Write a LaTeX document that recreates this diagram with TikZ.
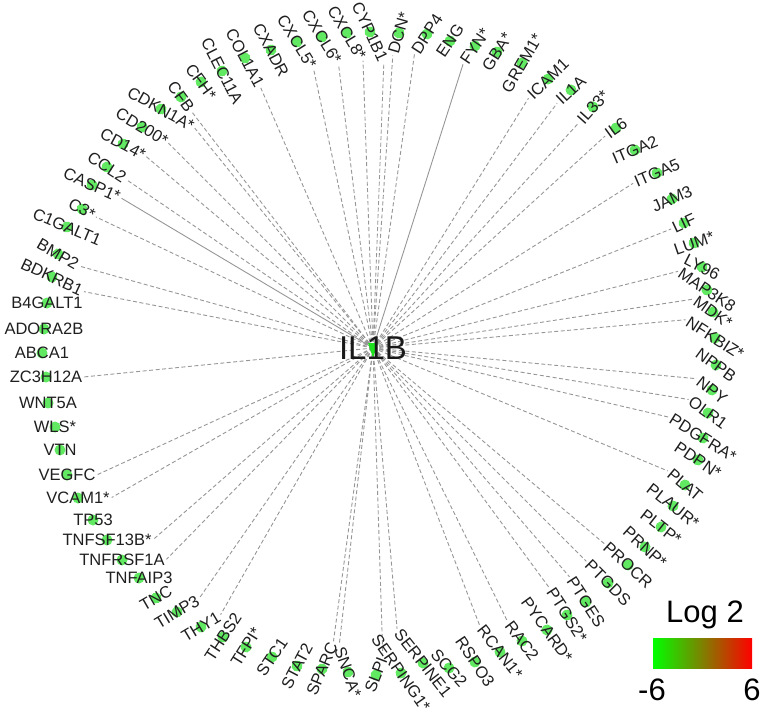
\documentclass[tikz,border=0pt]{standalone}
\usepackage{fontspec}
\setmainfont{Liberation Sans}
\usetikzlibrary{backgrounds}
\definecolor{glyphgreen}{RGB}{30,225,30}
\definecolor{linkgray}{RGB}{150,150,150}
\definecolor{lowgreen}{RGB}{0,255,0}
\definecolor{highred}{RGB}{255,0,0}
\tikzset{
  gene/.style={font=\fontsize{16.5}{18}\selectfont, text=black!88, inner sep=1pt,
    path picture={\fill[glyphgreen,opacity=.7] (path picture bounding box.center) circle (5.5);}},
  link/.style={linkgray, line width=0.9pt, dash pattern=on 4pt off 2.5pt, shorten >=1pt},
  plainlink/.style={linkgray, line width=0.9pt, shorten >=1pt},
}
\begin{document}
\begin{tikzpicture}[x=1pt,y=-1pt]
\useasboundingbox (0,0) rectangle (765,717);
% hub
\fill[glyphgreen] (368,343) -- (378,343) -- (373,358) -- cycle;
\node[font=\fontsize{33}{36}\selectfont, text=black!90] (IL1B) at (373,348) {IL1B};
% left side
\node[gene] (ABCA1) at (42,353) {ABCA1};
\node[gene] (ADORA2B) at (44,329) {ADORA2B};
\node[gene] (B4GALT1) at (47,303) {B4GALT1};
\node[gene,rotate=-25] (BDKRB1) at (52,277) {BDKRB1};
\node[gene,rotate=-30] (BMP2) at (58,254) {BMP2};
\node[gene,rotate=-23] (C1GALT1) at (67,227) {C1GALT1};
\node[gene,rotate=-30] (C3) at (82,209) {C3*};
\node[gene,rotate=-24] (CASP1) at (92,185) {CASP1*};
\node[gene,rotate=-33] (CCL2) at (107,167) {CCL2};
\node[gene,rotate=-28] (CD14) at (123,144) {CD14*};
\node[gene,rotate=-31] (CD200) at (142,127) {CD200*};
\node[gene,rotate=-29] (CDKN1A) at (161,109) {CDKN1A*};
\node[gene,rotate=-54] (CFB) at (181,97) {CFB};
\node[gene,rotate=-54] (CFH) at (201,82) {CFH*};
\node[gene,rotate=-63] (CLEC11A) at (222,71) {CLEC11A};
\node[gene,rotate=-62] (COL1A1) at (245,58) {COL1A1};
\node[gene,rotate=-62] (CXADR) at (271,50) {CXADR};
\node[gene,rotate=-58] (CXCL5) at (297,42) {CXCL5*};
\node[gene,rotate=-58] (CXCL6) at (322,37) {CXCL6*};
\node[gene,rotate=-59] (CXCL8) at (347,33) {CXCL8*};
\node[gene,rotate=-65] (CYP1B1) at (370,32) {CYP1B1};
% top right
\node[gene,rotate=74] (DCN) at (399,33) {DCN*};
\node[gene,rotate=57] (DPP4) at (427,34) {DPP4};
\node[gene,rotate=56] (ENG) at (450,41) {ENG};
\node[gene,rotate=56] (FYN) at (475,46) {FYN*};
\node[gene,rotate=58] (GBA) at (497,52) {GBA*};
\node[gene,rotate=60] (GREM1) at (522,63) {GREM1*};
\node[gene,rotate=44] (ICAM1) at (548,79) {ICAM1};
\node[gene,rotate=43] (IL1A) at (571,90) {IL1A};
\node[gene,rotate=48] (IL33) at (593,107) {IL33*};
\node[gene,rotate=36] (IL6) at (616,128) {IL6};
\node[gene,rotate=23] (ITGA2) at (635,150) {ITGA2};
\node[gene,rotate=23] (ITGA5) at (657,173) {ITGA5};
\node[gene,rotate=24] (JAM3) at (672,199) {JAM3};
\node[gene,rotate=25] (LIF) at (684,223) {LIF};
\node[gene,rotate=19] (LUM) at (694,243) {LUM*};
% right side
\node[gene,rotate=-27] (LY96) at (702,267) {LY96};
\node[gene,rotate=-34] (MAP3K8) at (707,290) {MAP3K8};
\node[gene,rotate=-35] (MDK) at (713,312) {MDK*};
\node[gene,rotate=-33] (NFKBIZ) at (715,338) {NFKBIZ*};
\node[gene,rotate=-36] (NPPB) at (716,365) {NPPB};
\node[gene,rotate=-38] (NPY) at (712,390) {NPY};
\node[gene,rotate=-36] (OLR1) at (708,413) {OLR1};
\node[gene,rotate=-32] (PDGFRA) at (703,438) {PDGFRA*};
\node[gene,rotate=-34] (PDPN) at (698,460) {PDPN*};
\node[gene,rotate=-40] (PLAT) at (685,485) {PLAT};
\node[gene,rotate=-38] (PLAUR) at (673,506) {PLAUR*};
\node[gene,rotate=-38] (PLTP) at (661,527) {PLTP*};
\node[gene,rotate=-42] (PRNP) at (645,547) {PRNP*};
\node[gene,rotate=-42] (PROCR) at (628,565) {PROCR};
\node[gene,rotate=-45] (PTGDS) at (608,583) {PTGDS};
\node[gene,rotate=-57] (PTGES) at (586,602) {PTGES};
\node[gene,rotate=-57] (PTGS2) at (567,615) {PTGS2*};
\node[gene,rotate=-54] (PYCARD) at (547,630) {PYCARD*};
\node[gene,rotate=-53] (RAC2) at (522,641) {RAC2};
\node[gene,rotate=-52] (RCAN1) at (500,652) {RCAN1*};
\node[gene,rotate=-56] (RSPO3) at (475,662) {RSPO3};
\node[gene,rotate=-48] (SCG2) at (449,668) {SCG2};
\node[gene,rotate=-52] (SERPINE1) at (423,663) {SERPINE1};
\node[gene,rotate=-55] (SERPING1) at (401,673) {SERPING1*};
% bottom left
\node[gene,rotate=69] (SLPI) at (376,675) {SLPI};
\node[gene,rotate=-71] (SNCA) at (348,672) {SNCA*};
\node[gene,rotate=67] (SPARC) at (322,669) {SPARC};
\node[gene,rotate=62] (STAT2) at (297,666) {STAT2};
\node[gene,rotate=56] (STC1) at (272,657) {STC1};
\node[gene,rotate=58] (TFPI) at (246,647) {TFPI*};
\node[gene,rotate=57] (THBS2) at (223,637) {THBS2};
\node[gene,rotate=31] (THY1) at (201,627) {THY1};
\node[gene,rotate=31] (TIMP3) at (177,612) {TIMP3};
\node[gene,rotate=30] (TNC) at (156,598) {TNC};
\node[gene] (TNFAIP3) at (139,578) {TNFAIP3};
\node[gene] (TNFRSF1A) at (122,560) {TNFRSF1A};
\node[gene] (TNFSF13B) at (107,540) {TNFSF13B*};
\node[gene] (TP53) at (93,520) {TP53};
\node[gene] (VCAM1) at (78,498) {VCAM1*};
\node[gene] (VEGFC) at (67,475) {VEGFC};
\node[gene] (VTN) at (60,450) {VTN};
\node[gene] (WLS) at (55,427) {WLS*};
\node[gene] (WNT5A) at (48,403) {WNT5A};
\node[gene] (ZC3H12A) at (46,377) {ZC3H12A};
% links to the hub
\begin{scope}[on background layer]
\draw[link] (IL1B.center) -- (BDKRB1.east);
\draw[link] (IL1B.center) -- (BMP2.east);
\draw[link] (IL1B.center) -- (C3.east);
\draw[plainlink] (IL1B.center) -- (CASP1.east);
\draw[link] (IL1B.center) -- (CCL2.east);
\draw[link] (IL1B.center) -- (CD14.east);
\draw[link] (IL1B.center) -- (CD200.east);
\draw[link] (IL1B.center) -- (CDKN1A.east);
\draw[link] (IL1B.center) -- (CFB.east);
\draw[link] (IL1B.center) -- (COL1A1.east);
\draw[link] (IL1B.center) -- (CXCL5.east);
\draw[link] (IL1B.center) -- (CXCL6.east);
\draw[link] (IL1B.center) -- (CXCL8.east);
\draw[link] (IL1B.center) -- (CYP1B1.east);
\draw[link] (IL1B.center) -- (DCN.west);
\draw[link] (IL1B.center) -- (DPP4.west);
\draw[plainlink] (IL1B.center) -- (FYN.west);
\draw[link] (IL1B.center) -- (ICAM1.west);
\draw[link] (IL1B.center) -- (IL1A.west);
\draw[link] (IL1B.center) -- (IL33.west);
\draw[link] (IL1B.center) -- (IL6.west);
\draw[link] (IL1B.center) -- (ITGA5.west);
\draw[link] (IL1B.center) -- (LIF.west);
\draw[link] (IL1B.center) -- (MAP3K8.west);
\draw[link] (IL1B.center) -- (MDK.west);
\draw[link] (IL1B.center) -- (NFKBIZ.west);
\draw[link] (IL1B.center) -- (NPY.west);
\draw[link] (IL1B.center) -- (OLR1.west);
\draw[link] (IL1B.center) -- (PDGFRA.west);
\draw[link] (IL1B.center) -- (PLAT.west);
\draw[link] (IL1B.center) -- (PROCR.west);
\draw[link] (IL1B.center) -- (PTGDS.west);
\draw[link] (IL1B.center) -- (PTGES.west);
\draw[link] (IL1B.center) -- (PTGS2.west);
\draw[link] (IL1B.center) -- (RAC2.west);
\draw[link] (IL1B.center) -- (RCAN1.west);
\draw[link] (IL1B.center) -- (SERPINE1.west);
\draw[link] (IL1B.center) -- (SLPI.east);
\draw[link] (IL1B.center) -- (SNCA.west);
\draw[link] (IL1B.center) -- (SPARC.east);
\draw[link] (IL1B.center) -- (THY1.east);
\draw[link] (IL1B.center) -- (TIMP3.east);
\draw[link] (IL1B.center) -- (TNFRSF1A.east);
\draw[link] (IL1B.center) -- (TNFSF13B.east);
\draw[link] (IL1B.center) -- (VCAM1.east);
\draw[link] (IL1B.center) -- (VEGFC.east);
\draw[link] (IL1B.center) -- (ZC3H12A.east);
\end{scope}
% colour key
\node[font=\fontsize{31}{34}\selectfont] (logtitle) at (705,615) {Log 2};
\node[minimum width=99pt, minimum height=30pt, inner sep=0pt,
  left color=lowgreen, middle color=black, right color=highred] (logbar) at (702.5,653) {};
\node[font=\fontsize{31}{34}\selectfont] (logmin) at (652,690) {-6};
\node[font=\fontsize{31}{34}\selectfont] (logmax) at (752,690) {6};
\end{tikzpicture}
\end{document}
